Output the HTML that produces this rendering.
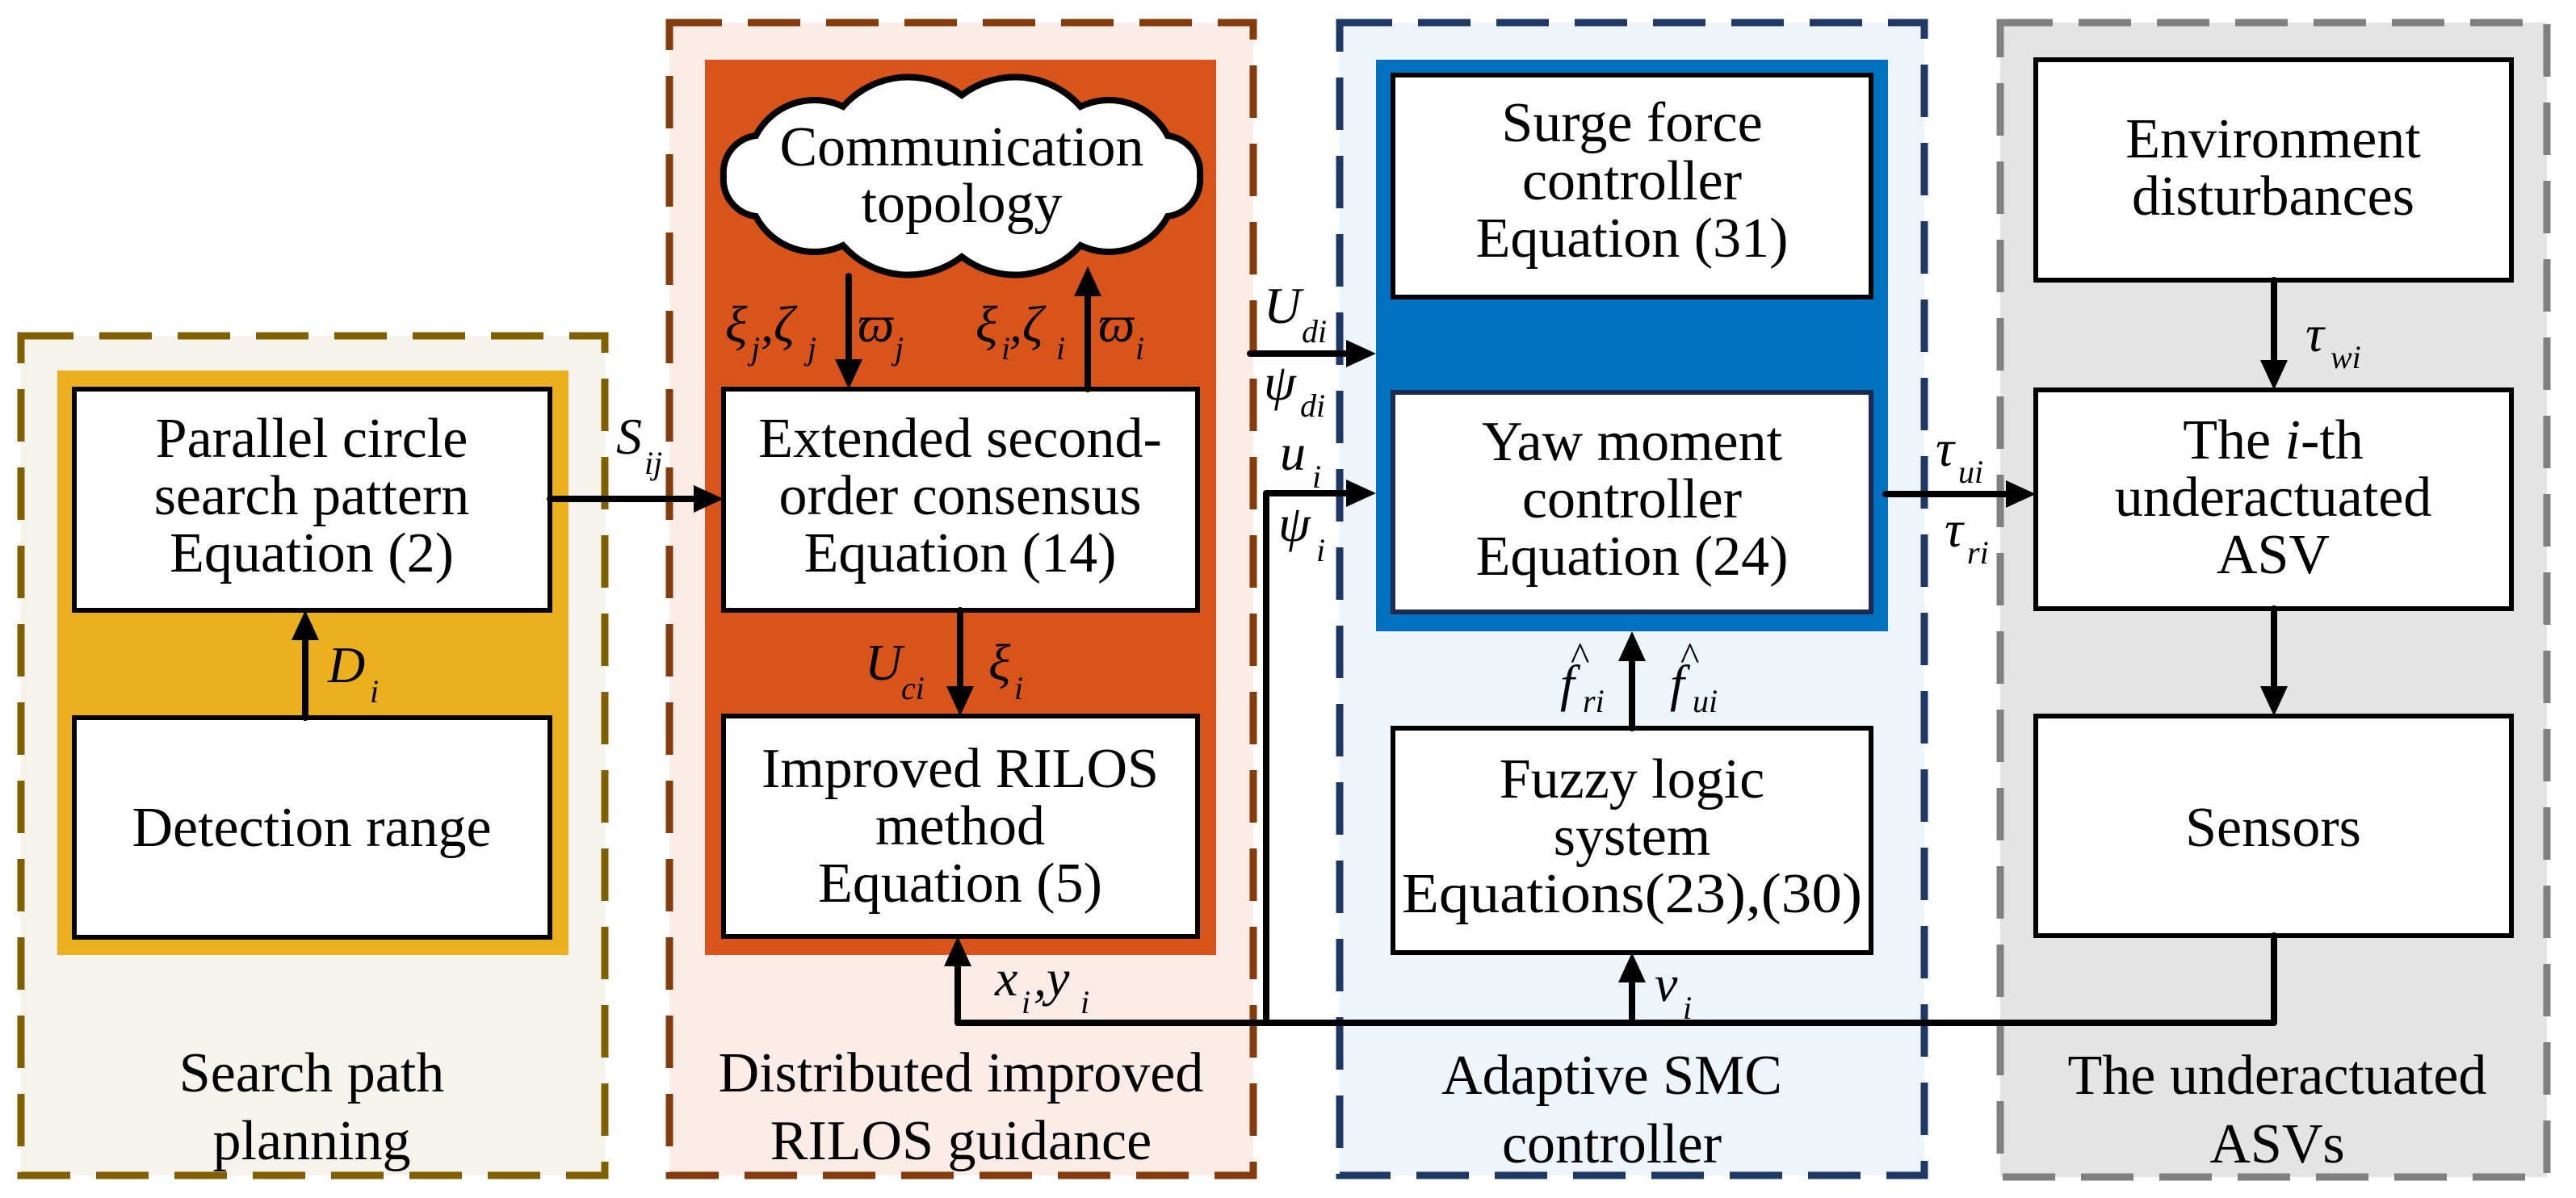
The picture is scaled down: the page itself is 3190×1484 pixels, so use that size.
<!DOCTYPE html>
<html><head><meta charset="utf-8"><style>
html,body{margin:0;padding:0;background:#fff;}
svg{display:block;}
svg text{font-family:"Liberation Serif","DejaVu Serif","Noto Serif CJK SC",serif;fill:#000;}
.t{font-size:70px;text-anchor:middle;}
.m{font-size:64px;font-style:italic;}
.s{font-size:40px;font-style:italic;}
</style></head><body>
<svg width="3190" height="1484" viewBox="0 0 3190 1484" xmlns="http://www.w3.org/2000/svg">
<rect x="26" y="416" width="723" height="1040" fill="#f6f3ec" stroke="#806000" stroke-width="9" stroke-dasharray="65,32"/>
<rect x="829" y="28" width="723" height="1428" fill="#fbece7" stroke="#843c0c" stroke-width="9" stroke-dasharray="65,32"/>
<rect x="1659" y="28" width="724" height="1428" fill="#eef5fa" stroke="#1f3864" stroke-width="9" stroke-dasharray="65,32"/>
<rect x="2477" y="28" width="677" height="1430" fill="#e4e4e4" stroke="#808080" stroke-width="9" stroke-dasharray="65,32"/>
<rect x="71" y="459" width="633" height="724" fill="#ecb01f"/>
<rect x="873" y="74" width="633" height="1109" fill="#d9541a"/>
<rect x="1704" y="74" width="634" height="708" fill="#0070c0"/>
<g fill="#fff" stroke="#000" stroke-width="6">
<rect x="92" y="482" width="589" height="274"/>
<rect x="92" y="889" width="589" height="272"/>
<rect x="896" y="482" width="587" height="274"/>
<rect x="896" y="887" width="587" height="273"/>
<rect x="1725" y="93" width="592" height="275"/>
<rect x="1725" y="486" width="592" height="272" stroke="#1a2a50"/>
<rect x="1725" y="902" width="592" height="278"/>
<rect x="2521" y="74" width="589" height="273"/>
<rect x="2521" y="483" width="589" height="271"/>
<rect x="2521" y="887" width="589" height="272"/>
</g>
<path d="M1486,218 A46,46 0 0 1 1446,268 A82,82 0 0 1 1338,304 A108,108 0 0 1 1191,318 A108,108 0 0 1 1044,304 A82,82 0 0 1 936,268 A46,46 0 0 1 896,218 A46,46 0 0 1 936,168 A82,82 0 0 1 1044,132 A108,108 0 0 1 1191,118 A108,108 0 0 1 1338,132 A82,82 0 0 1 1446,168 A46,46 0 0 1 1486,218 Z" fill="#fff" stroke="#000" stroke-width="8"/>
<g stroke="#000" stroke-width="8" fill="none" stroke-linecap="round" stroke-linejoin="round">
<line x1="378" y1="889" x2="378" y2="790"/>
<line x1="681" y1="618" x2="862" y2="618"/>
<line x1="1051" y1="342" x2="1051" y2="448"/>
<line x1="1347" y1="482" x2="1347" y2="366"/>
<line x1="1189" y1="756" x2="1189" y2="852"/>
<polyline points="1186,1196 1186,1267 2816,1267 2816,1159"/>
<polyline points="1568,1267 1568,611 1670,611"/>
<line x1="1548" y1="438" x2="1670" y2="438"/>
<line x1="2021" y1="902" x2="2021" y2="816"/>
<line x1="2021" y1="1267" x2="2021" y2="1214"/>
<line x1="2335" y1="612" x2="2487" y2="612"/>
<line x1="2816" y1="347" x2="2816" y2="449"/>
<line x1="2816" y1="754" x2="2816" y2="853"/>
</g>
<g fill="#000">
<polygon points="378,756 361,793 395,793"/>
<polygon points="896,618 859,601 859,635"/>
<polygon points="1051,482 1034,445 1068,445"/>
<polygon points="1347,330 1330,367 1364,367"/>
<polygon points="1189,887 1172,850 1206,850"/>
<polygon points="1186,1160 1169,1197 1203,1197"/>
<polygon points="1704,611 1667,594 1667,628"/>
<polygon points="1704,438 1667,421 1667,455"/>
<polygon points="2021,782 2004,819 2038,819"/>
<polygon points="2021,1180 2004,1217 2038,1217"/>
<polygon points="2521,612 2484,595 2484,629"/>
<polygon points="2816,483 2799,446 2833,446"/>
<polygon points="2816,887 2799,850 2833,850"/>
</g>
<text class="t" x="386" y="566">Parallel circle</text>
<text class="t" x="386" y="637">search pattern</text>
<text class="t" x="386" y="708">Equation (2)</text>
<text class="t" x="386" y="1048">Detection range</text>
<text class="t" x="1189" y="566">Extended second-</text>
<text class="t" x="1189" y="637">order consensus</text>
<text class="t" x="1189" y="708">Equation (14)</text>
<text class="t" x="1189" y="975">Improved RILOS</text>
<text class="t" x="1189" y="1046">method</text>
<text class="t" x="1189" y="1117">Equation (5)</text>
<text class="t" x="1191" y="205">Communication</text>
<text class="t" x="1191" y="275">topology</text>
<text class="t" x="2021" y="175">Surge force</text>
<text class="t" x="2021" y="247">controller</text>
<text class="t" x="2021" y="318">Equation (31)</text>
<text class="t" x="2021" y="570">Yaw moment</text>
<text class="t" x="2021" y="641">controller</text>
<text class="t" x="2021" y="712">Equation (24)</text>
<text class="t" x="2021" y="988">Fuzzy logic</text>
<text class="t" x="2021" y="1059">system</text>
<text class="t" x="2021" y="1130" textLength="570" lengthAdjust="spacingAndGlyphs">Equations(23),(30)</text>
<text class="t" x="2815" y="195">Environment</text>
<text class="t" x="2815" y="266">disturbances</text>
<text class="t" x="2815" y="568">The <tspan font-style="italic">i</tspan>-th</text>
<text class="t" x="2815" y="639">underactuated</text>
<text class="t" x="2815" y="710">ASV</text>
<text class="t" x="2815" y="1048">Sensors</text>
<text class="t" x="386" y="1352">Search path</text>
<text class="t" x="386" y="1436">planning</text>
<text class="t" x="1190" y="1352">Distributed improved</text>
<text class="t" x="1190" y="1436">RILOS guidance</text>
<text class="t" x="1996" y="1355">Adaptive SMC</text>
<text class="t" x="1996" y="1440">controller</text>
<text class="t" x="2820" y="1355">The underactuated</text>
<text class="t" x="2820" y="1440">ASVs</text>
<text class="m" x="763" y="562">S</text><text class="s" x="798" y="587">ij</text>
<text class="m" x="406" y="845">D</text><text class="s" x="458" y="870">i</text>
<text class="m" x="898" y="423">ξ</text><text class="s" x="930" y="445">j</text><text class="m" x="942" y="423">,ζ</text><text class="s" x="1000" y="445">j</text>
<text class="m" x="1062" y="423">ϖ</text><text class="s" x="1108" y="445">j</text>
<text class="m" x="1208" y="423">ξ</text><text class="s" x="1240" y="445">i</text><text class="m" x="1250" y="423">,ζ</text><text class="s" x="1308" y="445">i</text>
<text class="m" x="1360" y="423">ϖ</text><text class="s" x="1406" y="445">i</text>
<text class="m" x="1071" y="842">U</text><text class="s" x="1116" y="866">ci</text>
<text class="m" x="1224" y="842">ξ</text><text class="s" x="1256" y="866">i</text>
<text class="m" x="1232" y="1233">x</text><text class="s" x="1265" y="1255">i</text><text class="m" x="1280" y="1233">,y</text><text class="s" x="1338" y="1255">i</text>
<text class="m" x="1565" y="400">U</text><text class="s" x="1612" y="424">di</text>
<text class="m" x="1565" y="495">ψ</text><text class="s" x="1610" y="516">di</text>
<text class="m" x="1585" y="582">u</text><text class="s" x="1625" y="604">i</text>
<text class="m" x="1583" y="670">ψ</text><text class="s" x="1630" y="695">i</text>
<text class="m" x="1932" y="868">f</text><text class="s" x="1960" y="882">ri</text><text x="1945" y="830" font-size="50">^</text>
<text class="m" x="2068" y="868">f</text><text class="s" x="2096" y="882">ui</text><text x="2081" y="830" font-size="50">^</text>
<text class="m" x="2049" y="1240">v</text><text class="s" x="2084" y="1262">i</text>
<text class="m" x="2397" y="577">τ</text><text class="s" x="2425" y="598">ui</text>
<text class="m" x="2408" y="677">τ</text><text class="s" x="2436" y="698">ri</text>
<text class="m" x="2855" y="435">τ</text><text class="s" x="2886" y="456">wi</text>
</svg>
</body></html>
